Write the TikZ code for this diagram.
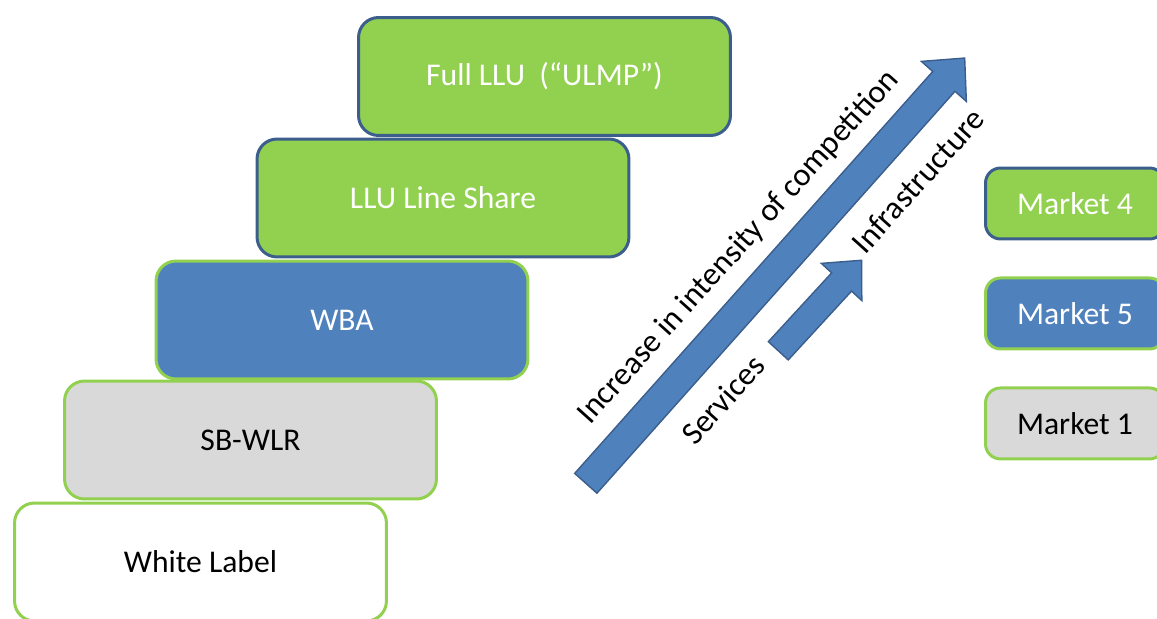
\documentclass[tikz,border=0pt]{standalone}
\usepackage{fontspec}
\setmainfont{Carlito}
\usepackage{tikz}
\usetikzlibrary{positioning}

\definecolor{stepgreen}{HTML}{92D050}
\definecolor{stepblue}{HTML}{4F81BD}
\definecolor{stepedge}{HTML}{3B5E8C}
\definecolor{stepgray}{HTML}{D9D9D9}

\begin{document}
\begin{tikzpicture}[x=0.02cm, y=-0.02cm,
    box/.style={draw, rectangle, rounded corners=0.4cm, line width=0.06cm,
      minimum width=7.44cm, minimum height=2.36cm, inner sep=0pt,
      font=\fontsize{18}{22}\selectfont},
    greenbox/.style={box, fill=stepgreen, draw=stepedge, text=white},
    bluebox/.style={box, fill=stepblue, draw=stepgreen, text=white},
    graybox/.style={box, fill=stepgray, draw=stepgreen, text=black},
    whitebox/.style={box, fill=white, draw=stepgreen, text=black},
    market/.style={minimum width=3.58cm, minimum height=1.42cm, rounded corners=0.3cm},
    bigarrow/.style={fill=stepblue, draw=stepedge, line width=0.8pt, line join=miter},
    lbl/.style={font=\fontsize{18.4}{22}\selectfont, rotate=48, anchor=base, inner sep=0pt}
  ]
    \useasboundingbox (0,0) rectangle (1157,619);

    % staircase of access products
    \node[whitebox] (white) at (200.5,562) {White Label};
    \node[graybox] (sbwlr) at (250.5,440) {SB-WLR};
    \node[bluebox] (wba) at (342,320) {WBA};
    \node[greenbox] (share) at (443,198) {LLU Line Share};
    \node[greenbox] (full) at (544.5,76.5) {Full LLU~ (“ULMP”)};

    % arrows
    \begin{scope}[shift={(585.8,483.3)}, rotate=48.3]
      \draw[bigarrow] (0,-14.9) -- (538.3,-14.9) -- (538.3,-30.1) -- (569.6,0)
        -- (538.3,30.1) -- (538.3,14.9) -- (0,14.9) -- cycle;
    \end{scope}
    \begin{scope}[shift={(778.3,350.8)}, rotate=47.4]
      \draw[bigarrow] (0,-13.5) -- (93.5,-13.5) -- (93.5,-27.5) -- (123,0)
        -- (93.5,27.5) -- (93.5,13.5) -- (0,13.5) -- cycle;
    \end{scope}

    \node[lbl] (incr) at (745,253) {Increase in intensity of competition};
    \node[lbl] (infra) at (926,188) {Infrastructure};
    \node[lbl] (serv) at (731,407) {Services};

    % markets
    \node[greenbox, market] (mkt4) at (1075,203.5) {Market 4};
    \node[bluebox, market, below=0.72cm of mkt4] (mkt5) {Market 5};
    \node[graybox, market, below=0.72cm of mkt5] (mkt1) {Market 1};
\end{tikzpicture}
\end{document}
